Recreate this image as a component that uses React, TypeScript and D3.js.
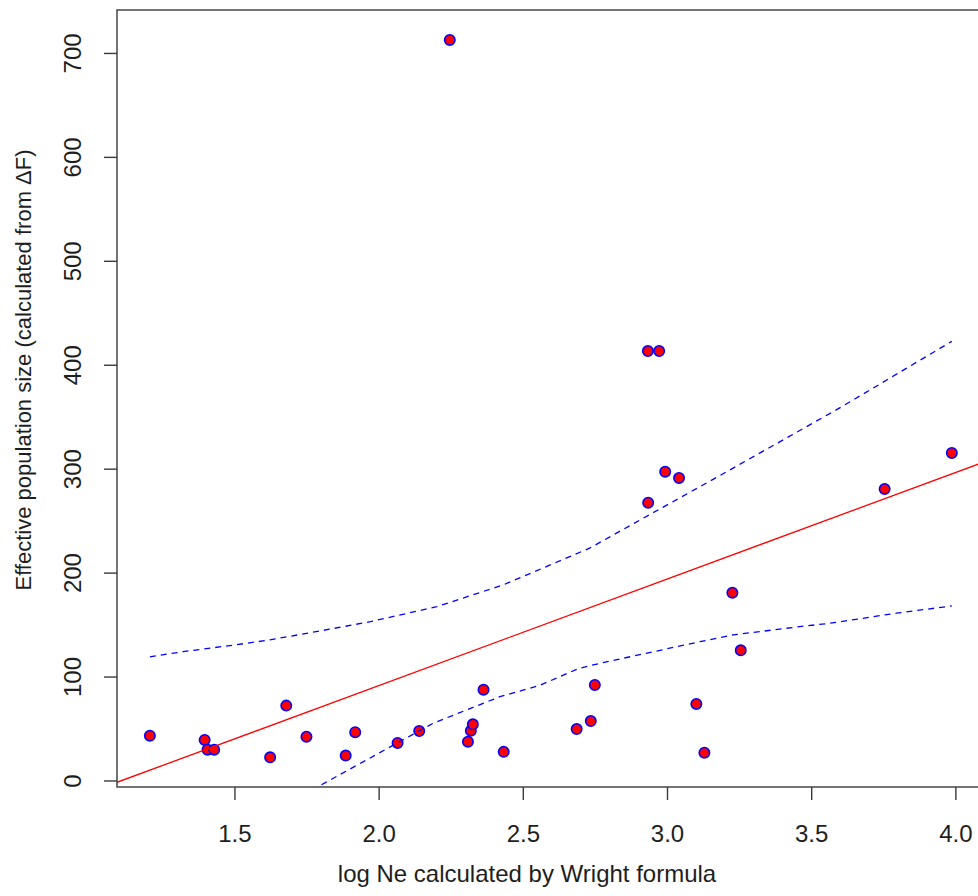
import React from "react";
import * as d3 from "d3";

// Data
const logNe = [
  1.205, 1.395, 1.405, 1.428, 1.622, 1.678, 1.748, 1.884, 1.917, 2.064, 2.139,
  2.245, 2.308, 2.318, 2.325, 2.362, 2.432, 2.685, 2.734, 2.748, 2.932, 2.971,
  2.933, 2.992, 3.04, 3.1, 3.128, 3.225, 3.254, 3.753, 3.986,
];
const effNe = [
  43.6, 39.5, 30.1, 30.1, 22.8, 72.5, 42.6, 24.4, 46.9, 36.6, 48.1, 713, 37.8,
  48.4, 54.5, 87.8, 28, 50, 57.7, 92.4, 413.7, 413.7, 267.8, 297.6, 291.5, 74.1,
  27.2, 181.2, 125.7, 281, 315.6,
];
const fitCoef = [-113.1, 102.5]; // intercept, slope

const upperX = [1.205, 1.32, 1.5, 1.62, 1.8, 1.97, 2.2, 2.43, 2.73, 2.904, 3.175, 3.585, 3.712, 3.828, 3.986];
const upperY = [119.5, 124.4, 130.9, 135.7, 144.6, 153.3, 167.7, 188.6, 224, 251, 292.8, 357, 377.8, 397, 423];
const lowerX = [1.7, 1.788, 1.956, 2.187, 2.419, 2.557, 2.69, 2.765, 3.112, 3.227, 3.458, 3.562, 3.793, 3.986];
const lowerY = [-19, -5.5, 20.2, 55.5, 81.1, 92, 108, 113.2, 134, 140.5, 148.5, 151.7, 161.4, 168.4];

const xTicks = [1.5, 2.0, 2.5, 3.0, 3.5, 4.0];
const yTicks = [0, 100, 200, 300, 400, 500, 600, 700];

const xDomain = [1.091, 4.101];
const yDomain = [-5.8, 741.8];

export default function App() {
  const W = 978;
  const H = 896;
  const L = 117, T = 10, R = 985, B = 787;
  const x = d3.scaleLinear().domain(xDomain).range([L, R]);
  const y = d3.scaleLinear().domain(yDomain).range([B, T]);
  const font = "'Liberation Sans', Arial, sans-serif";
  const txt = "#1e1e1e";
  const axisCol = "#3a3a3a";

  const line = d3
    .line<[number, number]>()
    .x((d) => x(d[0]))
    .y((d) => y(d[1]));
  const upper = line(upperX.map((v, i) => [v, upperY[i]] as [number, number]));
  const lower = line(lowerX.map((v, i) => [v, lowerY[i]] as [number, number]));
  const fitPts: [number, number][] = xDomain.map((v) => [v, fitCoef[0] + fitCoef[1] * v]);
  const fit = line(fitPts);

  return (
    <svg
      width={W}
      height={H}
      style={{ position: "absolute", left: 0, top: 0, background: "#fff" }}
      fontFamily={font}
    >
      <defs>
        <clipPath id="plotClip">
          <rect x={L} y={T} width={R - L} height={B - T} />
        </clipPath>
      </defs>
      <rect x={0} y={0} width={W} height={H} fill="#fff" />
      <g clipPath="url(#plotClip)">
        {logNe.map((v, i) => (
          <circle key={i} cx={x(v)} cy={y(effNe[i])} r={5.2} fill="#ff0000" stroke="#0000ff" strokeWidth={1.6} />
        ))}
        <path d={fit || ""} fill="none" stroke="#ff0000" strokeWidth={1.3} />
        <path d={upper || ""} fill="none" stroke="#0000ff" strokeWidth={1.3} strokeDasharray="6,5" />
        <path d={lower || ""} fill="none" stroke="#0000ff" strokeWidth={1.3} strokeDasharray="6,5" />
      </g>
      <rect x={L} y={T} width={R - L} height={B - T} fill="none" stroke={axisCol} strokeWidth={1.4} />
      {xTicks.map((t) => (
        <g key={t}>
          <line x1={x(t)} x2={x(t)} y1={B} y2={B + 13} stroke={axisCol} strokeWidth={1.4} />
          <text x={x(t)} y={842} textAnchor="middle" fontSize={24} fill={txt}>
            {t.toFixed(1)}
          </text>
        </g>
      ))}
      {yTicks.map((t) => (
        <g key={t}>
          <line x1={L - 13} x2={L} y1={y(t)} y2={y(t)} stroke={axisCol} strokeWidth={1.4} />
          <text
            transform={`translate(81,${y(t)}) rotate(-90)`}
            textAnchor="middle"
            fontSize={24}
            fill={txt}
          >
            {t}
          </text>
        </g>
      ))}
      <text x={527} y={882} textAnchor="middle" fontSize={24} fill={txt}>
        log Ne calculated by Wright formula
      </text>
      <text
        transform={`translate(31,370) rotate(-90)`}
        textAnchor="middle"
        fontSize={22}
        fill={txt}
      >
        Effective population size (calculated from ΔF)
      </text>
    </svg>
  );
}
